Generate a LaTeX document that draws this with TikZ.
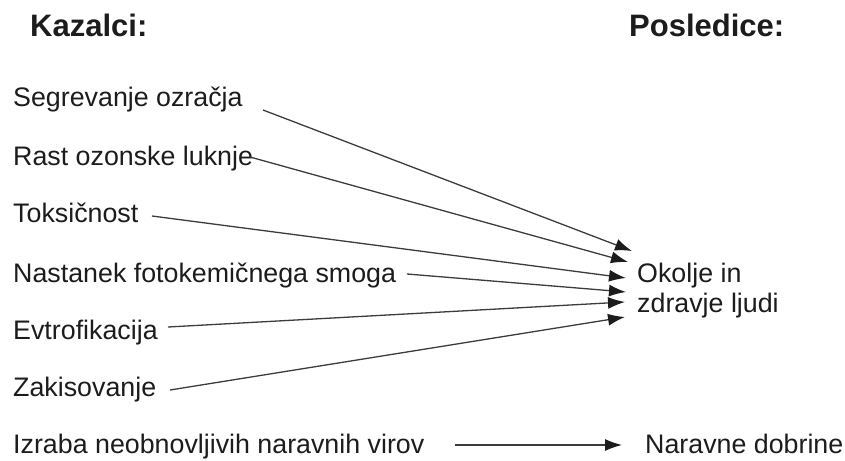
\documentclass[tikz,border=0pt]{standalone}
\usepackage{fontspec}
\setmainfont{Liberation Sans}
\usetikzlibrary{arrows.meta}
\definecolor{txt}{HTML}{1C1C1C}
\definecolor{ln}{HTML}{3C3C3C}
\tikzset{
  lbl/.style={anchor=base west, inner sep=0pt, text=txt, font=\fontsize{26.8}{30}\selectfont},
  head/.style={anchor=base west, inner sep=0pt, text=txt, font=\fontsize{31}{34}\selectfont\bfseries},
  conn/.style={draw=ln, line width=1.3pt, -{Latex[length=17pt,width=12pt,color=txt]}}
}
\begin{document}
\begin{tikzpicture}[x=1pt,y=-1pt]
\useasboundingbox (0,0) rectangle (845,460);
\node[head] (kaz) at (30,37) {Kazalci:};
\node[head] (pos) at (629,37) {Posledice:};

\node[lbl] (seg) at (13,106) {Segrevanje ozračja};
\node[lbl] (oz) at (13,165) {Rast ozonske luknje};
\node[lbl] (tok) at (13,222) {Toksičnost};
\node[lbl] (nas) at (13,282) {Nastanek fotokemičnega smoga};
\node[lbl] (evt) at (13,339) {Evtrofikacija};
\node[lbl] (zak) at (13,396) {Zakisovanje};
\node[lbl] (izr) at (13,453) {Izraba neobnovljivih naravnih virov};

\node[lbl, align=left] (okz) at (637,312) {Okolje in\\zdravje ljudi};
\node[lbl] (nar) at (645,453) {Naravne dobrine};

\coordinate (s1) at (263,110);
\coordinate (s2) at (250,157);
\coordinate (s3) at (152,216);
\coordinate (s4) at (407,274);
\coordinate (s5) at (168,327);
\coordinate (s6) at (170,390);
\coordinate (t1) at (632,251);
\coordinate (t2) at (628,262);
\coordinate (t3) at (626,278);
\coordinate (t4) at (626,292);
\coordinate (t5) at (625,302);
\coordinate (t6) at (625,317);

\draw[conn] (s1) -- (t1);
\draw[conn] (s2) -- (t2);
\draw[conn] (s3) -- (t3);
\draw[conn] (s4) -- (t4);
\draw[conn] (s5) -- (t5);
\draw[conn] (s6) -- (t6);

\draw[conn] ([xshift=30pt,yshift=8pt]izr.base east) -- ([xshift=-23pt,yshift=8pt]nar.base west);
\end{tikzpicture}
\end{document}
